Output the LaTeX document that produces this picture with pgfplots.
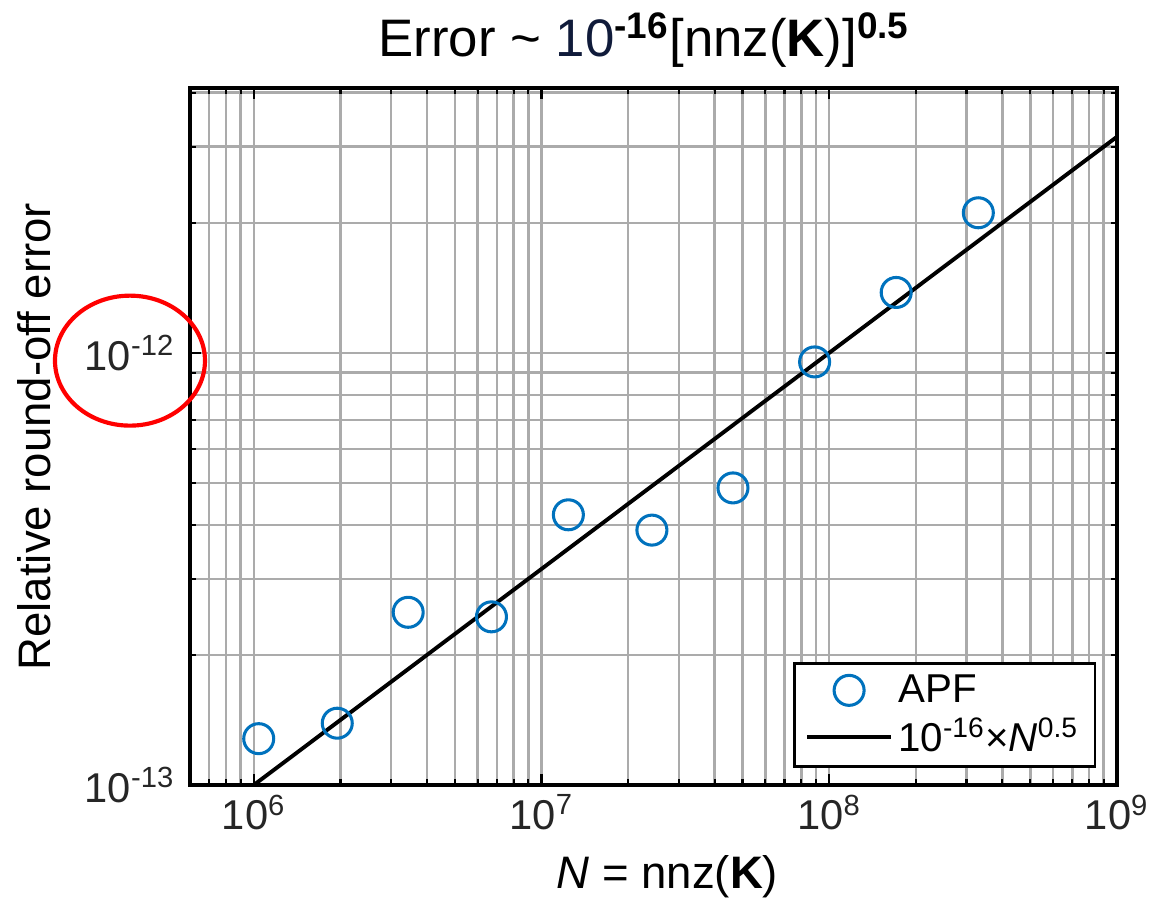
\documentclass[border=0pt]{standalone}
\usepackage{fontspec}
\setmainfont{Liberation Sans}
\usepackage{pgfplots}
\pgfplotsset{compat=1.18}
\definecolor{mblue}{HTML}{0072BD}
\definecolor{navy}{HTML}{101B3A}
\definecolor{gridc}{HTML}{ABABAB}
\definecolor{tickc}{HTML}{262626}

\begin{document}
\begin{tikzpicture}
\begin{axis}[
  name=ax,
  scale only axis, width=333.7pt, height=250.9pt,
  xmode=log, ymode=log,
  xmin=6e5, xmax=1e9, ymin=1e-13, ymax=4.1e-12,
  xtick={1e6,1e7,1e8,1e9},
  xticklabels={10\textsuperscript{6},10\textsuperscript{7},10\textsuperscript{8},10\textsuperscript{9}},
  ytick={1e-13,1e-12},
  yticklabels={10\textsuperscript{-13},10\textsuperscript{-12}},
  minor xtick={7e5,8e5,9e5,2e6,3e6,4e6,5e6,6e6,7e6,8e6,9e6,2e7,3e7,4e7,5e7,6e7,7e7,8e7,9e7,2e8,3e8,4e8,5e8,6e8,7e8,8e8,9e8},
  minor ytick={2e-13,3e-13,4e-13,5e-13,6e-13,7e-13,8e-13,9e-13,2e-12,3e-12,4e-12},
  ticklabel style={font=\fontsize{15}{17}\selectfont, text=tickc},
  yticklabel style={xshift=-2pt},
  grid=both,
  major grid style={gridc, line width=0.9pt},
  minor grid style={gridc, line width=0.9pt},
  tick align=inside, major tick length=4pt, minor tick length=2.2pt,
  tick style={black, line width=0.8pt},
  axis line style={line width=1.3pt},
  title={Error \textasciitilde{} \textcolor{navy}{10}\textsuperscript{\textbf{-16}}[nnz(\textbf{K})]\textsuperscript{\textbf{0.5}}},
  title style={font=\fontsize{19}{22}\selectfont, at={(axis description cs:0.49,1)}, anchor=south, yshift=-2pt},
  xlabel={\textit{N} = nnz(\textbf{K})},
  xlabel style={font=\fontsize{16.4}{19}\selectfont, at={(axis description cs:0.515,-0.132)}, anchor=center},
  ylabel={Relative round-off error},
  ylabel style={font=\fontsize{16.4}{19}\selectfont, at={(axis description cs:-0.168,0.5)}, anchor=center},
  legend image code/.code={\draw[mark repeat=2,mark phase=2,#1] plot coordinates {(0pt,0pt) (15pt,0pt) (30pt,0pt)};},
  legend style={at={(axis description cs:0.978,0.024)}, anchor=south east, draw=black, line width=1pt,
    font=\fontsize{14.5}{17}\selectfont, fill=white, inner xsep=4pt, inner ysep=2pt, row sep=0pt},
  legend cell align=left,
]
\addplot[only marks, mark=o, mark size=5.4pt, mblue, line width=1.1pt] coordinates {
  (1.04e6,1.28e-13) (1.95e6,1.39e-13) (3.44e6,2.51e-13) (6.7e6,2.45e-13)
  (1.24e7,4.22e-13) (2.42e7,3.89e-13) (4.63e7,4.87e-13) (8.9e7,9.53e-13)
  (1.71e8,1.38e-12) (3.30e8,2.11e-12)
};
\addlegendentry{APF}
\addplot[black, line width=1.4pt] coordinates {(1e6,1e-13) (1e9,3.1623e-12)};
\addlegendentry{10\textsuperscript{-16}×\textit{N}\textsuperscript{0.5}}
\end{axis}
\path (ax.south west) ++(0,0.6144*250.9pt) coordinate (e12);
\draw[red, line width=1.5pt] ([xshift=-21.6pt, yshift=-1.4pt]e12) ellipse [x radius=27pt, y radius=23.4pt];
\pgfresetboundingbox
\path[use as bounding box] ([shift={(-68.4pt,-48.6pt)}]ax.south west) rectangle ([shift={(351.4pt,282.6pt)}]ax.south west);
\end{tikzpicture}
\end{document}
